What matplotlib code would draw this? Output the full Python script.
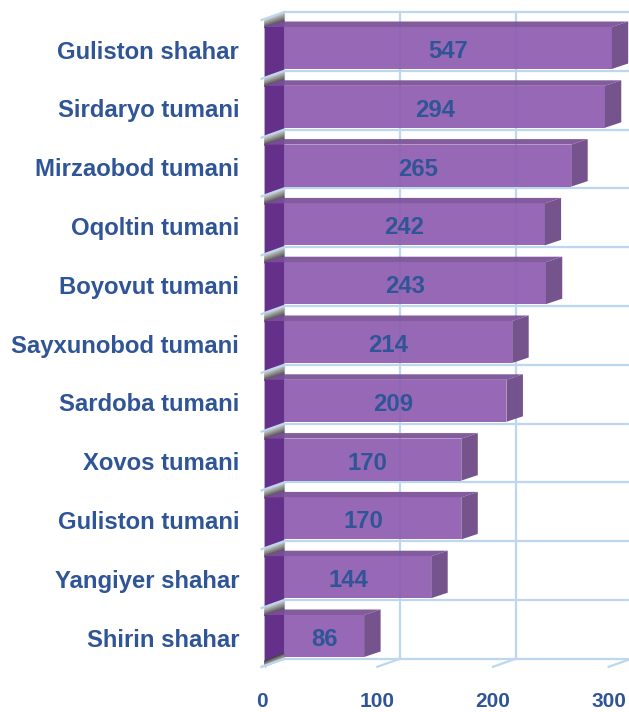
import numpy as np
import matplotlib
matplotlib.use("Agg")
import matplotlib.pyplot as plt
from matplotlib.patches import Polygon

plt.rcParams['font.family'] = ['Liberation Sans', 'DejaVu Sans']

names = ["Guliston shahar", "Sirdaryo tumani", "Mirzaobod tumani", "Oqoltin tumani",
         "Boyovut tumani", "Sayxunobod tumani", "Sardoba tumani", "Xovos tumani",
         "Guliston tumani", "Yangiyer shahar", "Shirin shahar"]
values = [547, 294, 265, 242, 243, 214, 209, 170, 170, 144, 86]
label_shift = [9, 0, 0, 0, 0, 0, 7, 4, 0, 0, 9]  # labels the original nudged sideways
ticks = [0, 100, 200, 300]
axis_max = 300  # the first bar is cut off here in the original

text_col = '#2F5597'
grid_col = '#BDD7EE'
W, H = 629, 712
px_x = 1.157    # pixels per unit of value
px_y = 58.8     # pixels per row
x0_px, y0_px = 264.6, 48

fig = plt.figure(figsize=(W / 100, H / 100), dpi=100)
ax = fig.add_axes([0, 0, 1, 1])
ax.set_xlim(-x0_px / px_x, (W - x0_px) / px_x)
ax.set_ylim((H - y0_px) / px_y, -y0_px / px_y)
ax.axis('off')

wall_dx = 19.5 / px_x   # depth of the left wall
bar_dx = 16.5 / px_x    # depth of a bar
bar_dy = 5.5 / px_y
half = 21 / px_y
n = len(names)
grid_top = -36 / px_y
grid_bot = grid_top + n
tick_dx = 3 / px_x
tick_dy = 8 / px_y

# back wall grid
for t in ticks:
    ax.plot([t + wall_dx] * 2, [grid_top, grid_bot], color=grid_col, lw=1.6, zorder=1)
    ax.plot([t - tick_dx, t + wall_dx], [grid_bot + tick_dy, grid_bot], color=grid_col, lw=1.6, zorder=1)
for i in range(n + 1):
    y = grid_top + i
    ax.plot([wall_dx, (W - x0_px) / px_x], [y, y], color=grid_col, lw=1.6, zorder=1)
ax.plot([0, 0], [grid_top + tick_dy, grid_bot + tick_dy], color='#D5D5E0', lw=1, zorder=1)

# grey wedge at the top of each row of the left wall
for i in range(n + 1):
    y = grid_top + i
    for k in range(10):
        f0, f1 = k / 10, (k + 1) / 10
        if i < n:
            g = 0.8 - 0.55 * f0
            a0, a1, b0, b1 = f0 * 8, f1 * 8, f0 * 10, f1 * 10
        else:  # the last one fades upward, above the floor line
            g = 0.25 + 0.55 * f0
            a0, a1, b0, b1 = (f0 - 1) * 6, (f1 - 1) * 6, (f0 - 1) * 6, (f1 - 1) * 6
        ax.add_patch(Polygon([(0, y + tick_dy + a0 / px_y), (wall_dx, y + b0 / px_y),
                              (wall_dx, y + b1 / px_y), (0, y + tick_dy + a1 / px_y)],
                             fc=(g, g, g), ec=(g, g, g), lw=0.4, zorder=3.5 if i == n else 2))
    ax.plot([-tick_dx, wall_dx], [y + tick_dy, y], color=grid_col, lw=1.6, zorder=5)

for i, (name, v) in enumerate(zip(names, values)):
    v_c = min(v, axis_max)
    top, bot = i - half, i + half
    # left wall segment
    ax.add_patch(Polygon([(0, top), (wall_dx, top - bar_dy), (wall_dx, grid_top + i + 1),
                          (0, grid_top + i + 1 + tick_dy)], fc='#65308A', ec='none', zorder=3))
    # top, side, front
    ax.add_patch(Polygon([(0, top), (bar_dx, top - bar_dy), (v_c + bar_dx, top - bar_dy), (v_c, top)],
                         fc='#7A4F97', ec='none', alpha=0.93, zorder=4))
    ax.add_patch(Polygon([(v_c, top), (v_c + bar_dx, top - bar_dy), (v_c + bar_dx, bot - bar_dy), (v_c, bot)],
                         fc='#714E8A', ec='none', alpha=0.97, zorder=4))
    ax.add_patch(Polygon([(wall_dx, top), (v_c, top), (v_c, bot), (wall_dx, bot)],
                         fc='#9060B2', ec='none', alpha=0.95, zorder=4))
    ax.text(-22, i + 0.07, name, ha='right', va='center', fontsize=17.2, fontweight='bold', color=text_col)
    ax.text(v_c / 2 + label_shift[i], i + 0.06, str(v), ha='center', va='center', fontsize=17.2,
            fontweight='bold', color=text_col, zorder=6)

for t in ticks:
    ax.text(t - tick_dx, (707 - y0_px) / px_y, str(t), ha='center', va='baseline', fontsize=15,
            fontweight='bold', color=text_col)

fig.savefig('out.png', dpi=100)
